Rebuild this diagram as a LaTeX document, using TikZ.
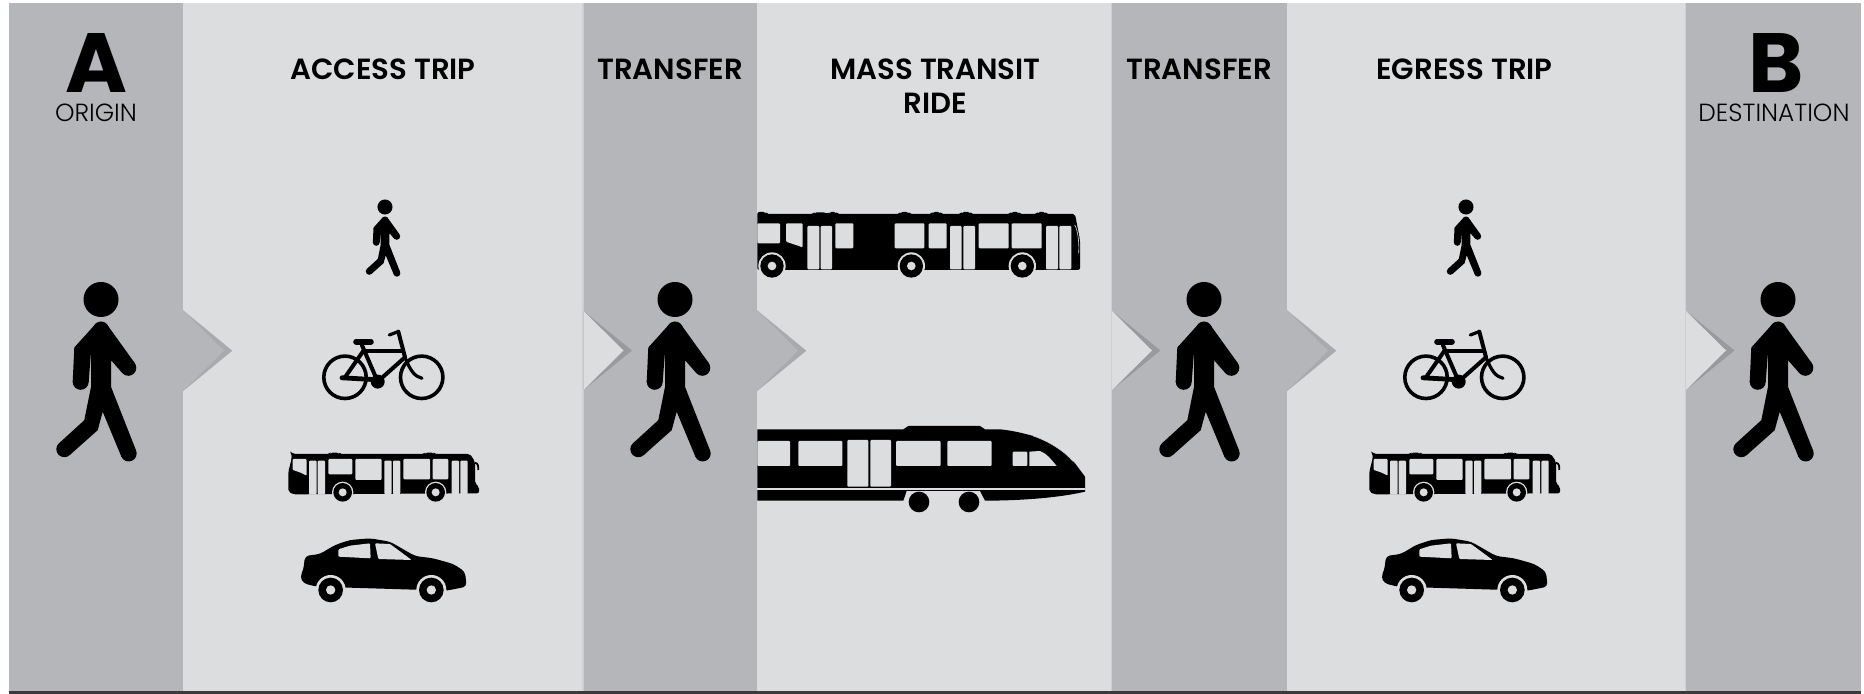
\documentclass[tikz,border=0pt]{standalone}
\usepackage{fontspec}
\setmainfont{Poppins}[BoldFont={Poppins SemiBold}]
\newfontfamily\lightfont{Poppins Light}
\newfontfamily\heavyfont{Poppins}[UprightFont={* Bold}]
\usetikzlibrary{positioning}
\definecolor{bandDark}{HTML}{B5B6B9}
\definecolor{bandLight}{HTML}{DCDDDF}
\definecolor{edgeLight}{HTML}{CFD0D3}
\definecolor{shadeOnLight}{HTML}{A9AAAE}
\definecolor{shadeOnDark}{HTML}{999A9E}
\definecolor{baseLine}{HTML}{3A3A3C}
\tikzset{
  darkband/.style={fill=bandDark},
  lightband/.style={fill=bandLight},
  head/.style={font=\fontsize{14.6}{17}\selectfont\bfseries, align=center, anchor=base, inner sep=0pt},
  letter/.style={font=\fontsize{42}{42}\selectfont\heavyfont, anchor=base, inner sep=0pt},
  place/.style={font=\fontsize{12.4}{14}\selectfont\lightfont, anchor=base, inner sep=0pt},
  win/.style={fill=bandLight, rounded corners=0.5pt},
  tube/.style={draw=black, line cap=round, line width=2pt},
  walker/.pic={
    \fill (0,0) circle (17.5);
    \fill (0,30) circle (8);
    \fill (-5.5,24.5) -- (-26.7,48) -- (-28.3,82.3) -- (-12.3,82.3) -- (-10,52.3) -- (-10,87.3) -- (-16.7,120.7) -- (-42,143.8) -- (-31.3,155.6) -- (-3.3,130.7) -- (1.7,112.3) -- (20.4,157.2) -- (35,150.8) -- (10,87.3) -- (10,60.7) -- (20.9,73.1) -- (33.7,63.5) -- (6,25) -- cycle;
    \fill (-20.3,82.3) circle (8);
    \fill (-36.7,149.7) circle (8);
    \fill (27.7,154) circle (8);
    \fill (27.3,68.3) circle (8);
  },
  darkchevron/.pic={
    \fill[shadeOnLight] (0,-40.5) -- (49.3,0) -- (0,40.5) -- cycle;
    \fill[bandDark] (0,-40.5) -- (41,0) -- (0,40.5) -- cycle;
  },
  lightchevron/.pic={
    \fill[shadeOnDark] (0,-39.5) -- (48.5,0) -- (0,39.5) -- cycle;
    \fill[bandLight] (0,-39.5) -- (40,0) -- (0,39.5) -- cycle;
  },
  cycle/.pic={
    \draw[tube, line width=1.8pt] (0,0) circle (21.2);
    \draw[tube, line width=1.8pt] (76.7,0) circle (21.2);
    \fill (32.7,4.3) circle (7);
    \draw[tube] (18.3,-26.3) -- (58,-26.3);
    \draw[tube] (60,-20) -- (32.7,4.3);
    \draw[tube] (17,-32) -- (32.7,4.3);
    \draw[tube, line width=2.4pt] (-3,0.5) -- (32.7,2.5);
    \draw[tube] (0,0) -- (18.3,-26.3);
    \draw[tube, line width=2.8pt] (11,-35.5) -- (26,-35.5);
    \draw[tube] (53.3,-45.7) -- (60,-20);
    \draw[tube, line width=1.6pt] (60,-20) .. controls (66,-5) and (70,-1) .. (77,1);
    \draw[tube, line width=1.6pt] (53.3,-45.7) -- (44.3,-42.3);
  },
  shortbus/.pic={
    \fill[rounded corners=1pt] (35,42) -- (28,32) -- (40,42) -- (148,42) -- (152,38) -- (176,38) -- (180,42) -- (432,42) -- (436,38) -- (460,38) -- (464,42) -- (570,42) -- (585,65) -- (585,130) -- (597,140) -- (597,160) -- (40,163) -- (25,155) -- (25,95) -- (35,55) -- cycle;
    \draw[line width=0.9pt] (585,68) .. controls (595,70) and (595,80) .. (595,90);
    \fill[win] (38,57) -- (80,57) -- (80,107) -- (60,97) -- (38,90) -- cycle;
    \fill[win] (87,62) rectangle (110,163);
    \fill[win] (113,62) rectangle (135,163);
    \fill[win] (145,57) rectangle (217,103);
    \fill[win] (226,57) rectangle (305,120);
    \fill[win] (313,62) rectangle (335,163);
    \fill[win] (339,62) rectangle (361,163);
    \fill[win] (370,57) rectangle (450,118);
    \fill[win] (458,57) rectangle (505,118);
    \fill[win] (515,62) rectangle (537,163);
    \fill[win] (541,62) rectangle (563,163);
    \fill[bandLight] (188,157) circle (32);
    \fill (188,157) circle (28);
    \fill[bandLight] (188,157) circle (12);
    \fill[bandLight] (467,157) circle (32);
    \fill (467,157) circle (28);
    \fill[bandLight] (467,157) circle (12);
  },
  sedan/.pic={
    \fill[rounded corners=2pt] (105,378) -- (150,372) -- (195,345) -- (240,330) -- (300,325) -- (360,335) -- (435,378) -- (490,385) -- (550,402) -- (585,425) -- (590,470) -- (530,482) -- (140,470) -- (100,460) -- (90,440) -- (100,420) -- cycle;
    \fill[bandLight] (182,480) circle (45);
    \fill[bandLight] (484,480) circle (45);
    \fill (182,480) circle (37);
    \fill (484,480) circle (37);
    \fill[bandLight] (182,480) circle (14);
    \fill[bandLight] (484,480) circle (14);
    \fill[win] (205,380) -- (205,358) -- (240,347) -- (300,340) -- (302,385) -- cycle;
    \fill[win] (315,340) -- (360,342) -- (425,390) -- (325,387) -- cycle;
  },
  longbus/.pic={
    \fill[rounded corners=1pt] (22,66) -- (46,66) -- (50,72) -- (190,72) -- (194,67) -- (225,67) -- (235,72) -- (238,66) -- (258,66) -- (262,72) -- (448,72) -- (452,66) -- (475,66) -- (480,72) -- (545,72) -- (548,66) -- (570,66) -- (574,72) -- (632,72) -- (636,66) -- (660,66) -- (664,72) -- (780,72) -- (784,66) -- (805,66) -- (810,72) -- (860,72) -- (864,66) -- (885,66) -- (889,72) -- (975,72) -- (990,150) -- (990,240) -- (22,240) -- cycle;
    \fill[win] (22,100) rectangle (90,160);
    \fill[win] (108,100) -- (158,100) -- (158,172) -- (108,155) -- cycle;
    \fill[win] (172,108) rectangle (208,238);
    \fill[win] (212,108) rectangle (246,238);
    \fill[win] (256,100) rectangle (310,175);
    \fill[win] (434,100) rectangle (523,175);
    \fill[win] (536,100) rectangle (590,175);
    \fill[win] (600,108) rectangle (635,238);
    \fill[win] (640,108) rectangle (675,238);
    \fill[win] (686,100) rectangle (776,175);
    \fill[win] (785,100) rectangle (875,175);
    \fill[win] (888,108) rectangle (924,238);
    \fill[win] (928,108) rectangle (964,238);
    \draw[bandLight, line width=0.3pt] (974,105) .. controls (984,120) and (988,160) .. (986,190);
    \fill[bandLight] (66,228) circle (41);
    \fill[bandLight] (484,228) circle (41);
    \fill[bandLight] (817,228) circle (41);
    \fill (66,228) circle (35);
    \fill (484,228) circle (35);
    \fill (817,228) circle (35);
    \fill[bandLight] (66,228) circle (13);
    \fill[bandLight] (484,228) circle (13);
    \fill[bandLight] (817,228) circle (13);
  },
  railcar/.pic={
    \fill (22,718) -- (460,718) -- (475,708) -- (690,708) -- (705,718) -- (750,718) .. controls (790,722) and (820,730) .. (850,738) .. controls (900,755) and (945,785) .. (975,820) -- (1005,860) -- (1005,905) .. controls (920,925) and (800,932) .. (705,932) -- (690,903) -- (470,903) -- (460,932) -- (22,932) -- cycle;
    \fill[win] (22,753) rectangle (120,828);
    \fill[win] (145,753) rectangle (277,828);
    \fill[win] (292,750) rectangle (355,890);
    \fill[win] (361,750) rectangle (423,890);
    \fill[win] (438,753) rectangle (572,828);
    \fill[win] (592,753) rectangle (725,828);
    \fill[win] (788,785) rectangle (832,828);
    \fill[bandLight] (838,828) -- (838,785) -- (870,783) .. controls (890,790) and (905,810) .. (920,828) -- cycle;
    \fill[bandLight] (22,895) rectangle (1005,900);
    \draw[bandLight, line width=0.3pt] (850,738) .. controls (900,755) and (945,785) .. (970,815);
    \fill (507,936) circle (31);
    \fill (657,936) circle (31);
  },
}
\begin{document}
\begin{tikzpicture}[x=0.5pt, y=-0.5pt]
\useasboundingbox (0,0) rectangle (1864,694);
\fill[white] (0,0) rectangle (1864,694);
\fill[darkband] (9,3) rectangle (183,692);
\fill[lightband] (183,3) rectangle (583.5,692);
\fill[darkband] (583.5,3) rectangle (757,692);
\fill[lightband] (757,3) rectangle (1112,692);
\fill[darkband] (1112,3) rectangle (1287,692);
\fill[lightband] (1287,3) rectangle (1686,692);
\fill[darkband] (1686,3) rectangle (1861,692);
\fill[edgeLight] (582,3) rectangle (583.5,692);
\fill[edgeLight] (1110.5,3) rectangle (1112,692);
\fill[edgeLight] (1684.5,3) rectangle (1686,692);
\fill[baseLine] (9,691.5) rectangle (1861,694);
\pic at (183,350.7) {darkchevron};
\pic at (583.5,350.5) {lightchevron};
\pic at (757,350.7) {darkchevron};
\pic at (1112,350.5) {lightchevron};
\pic at (1287,350.7) {darkchevron};
\pic at (1686,350.5) {lightchevron};
\node[letter] (pointA) at (96,93) {A};
\node[place] (origin) at (96,121.5) {ORIGIN};
\node[letter] (pointB) at (1776,93) {B};
\node[place] (destination) at (1774,121.5) {DESTINATION};
\node[head] (access) at (383,80) {ACCESS TRIP};
\node[head] (firstTransfer) at (670,80) {TRANSFER};
\node[head] (mass) at (935.5,114) {MASS TRANSIT\\RIDE};
\node[head] (secondTransfer) at (1199,80) {TRANSFER};
\node[head] (egress) at (1464.5,80) {EGRESS TRIP};
\pic at (101,299.5) {walker};
\pic at (675,299.5) {walker};
\pic at (1204,299.5) {walker};
\pic at (1778,299.5) {walker};
\pic[scale=0.43] at (385,207) {walker};
\pic[scale=0.43] at (1466,207) {walker};
\pic at (345,377.3) {cycle};
\pic at (1426,377.3) {cycle};
\pic[shift={(280,440)}, scale=1/3] {shortbus};
\pic[shift={(1361,440)}, scale=1/3] {shortbus};
\pic[shift={(270,430)}, scale=1/3] {sedan};
\pic[shift={(1351,430)}, scale=1/3] {sedan};
\pic[shift={(750,190)}, scale=1/3] {longbus};
\pic[shift={(750,190)}, scale=1/3] {railcar};
\end{tikzpicture}
\end{document}
